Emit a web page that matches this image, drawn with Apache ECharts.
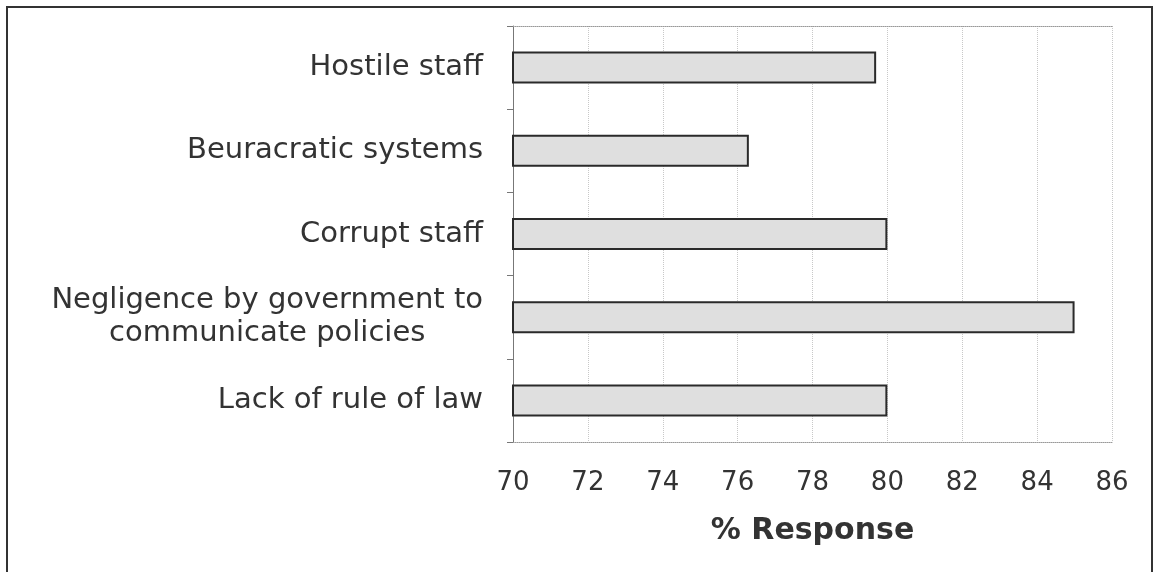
<!DOCTYPE html>
<html>
<head>
    <meta charset="utf-8">
    <title>% Response</title>
    <style>
        html, body { margin: 0; padding: 0; background: #fff; }
        #chartBox { width: 1158px; height: 572px; }
    </style>
</head>
<body>
    <div id="chartBox"></div>
    <script src="https://cdn.jsdelivr.net/npm/echarts@6/dist/echarts.min.js"></script>
    <script>
        // 数据
        var categories = [
            'Hostile staff',
            'Beuracratic systems',
            'Corrupt staff',
            'Negligence by government to\ncommunicate policies',
            'Lack of rule of law'
        ];
        var responseValues = [79.7, 76.3, 80, 85, 80];
        var axisMin = 70;
        var axisMax = 86;
        var axisStep = 2;

        var chart = echarts.init(document.getElementById('chartBox'));
        var textColor = '#333';
        var fontName = 'DejaVu Sans';

        var option = {
            backgroundColor: '#fff',
            animation: false,
            // 外框
            graphic: [{
                type: 'rect',
                shape: { x: 7, y: 7, width: 1145, height: 580 },
                style: { fill: 'none', stroke: '#333', lineWidth: 2 }
            }],
            grid: {
                left: 513,
                right: 46,
                top: 26,
                bottom: 130
            },
            xAxis: [{
                type: 'value',
                min: axisMin,
                max: axisMax,
                interval: axisStep,
                name: '% Response',
                nameLocation: 'middle',
                nameGap: 74,
                nameTextStyle: {
                    color: textColor,
                    fontFamily: fontName,
                    fontSize: 30,
                    fontWeight: 'bold'
                },
                axisLine: { show: true, lineStyle: { color: '#999', type: 'dotted', width: 1 } },
                axisTick: { show: false },
                axisLabel: {
                    color: textColor,
                    fontFamily: fontName,
                    fontSize: 26,
                    margin: 28
                },
                splitLine: { show: true, lineStyle: { color: '#c8c8c8', type: 'dotted', width: 1 } }
            }, {
                // 上边框
                type: 'value',
                position: 'top',
                min: axisMin,
                max: axisMax,
                interval: axisStep,
                axisLine: { show: true, lineStyle: { color: '#999', type: 'dotted', width: 1 } },
                axisTick: { show: false },
                axisLabel: { show: false },
                splitLine: { show: false }
            }],
            yAxis: {
                type: 'category',
                inverse: true,
                data: categories,
                axisLine: { show: true, lineStyle: { color: '#777', width: 1 } },
                axisTick: { show: true, length: 6, lineStyle: { color: '#777' } },
                axisLabel: {
                    margin: 30,
                    formatter: function (val) {
                        // 多行标签居中
                        return val.split('\n').map(function (s) {
                            return '{c|' + s + '}';
                        }).join('\n');
                    },
                    rich: {
                        c: {
                            align: 'center',
                            color: textColor,
                            fontFamily: fontName,
                            fontSize: 29,
                            lineHeight: 33
                        }
                    }
                }
            },
            series: [{
                type: 'bar',
                data: responseValues,
                barWidth: 32,
                itemStyle: {
                    color: '#dfdfdf',
                    borderColor: '#2a2a2a',
                    borderWidth: 2
                }
            }]
        };
        chart.setOption(option);
    </script>
</body>
</html>
